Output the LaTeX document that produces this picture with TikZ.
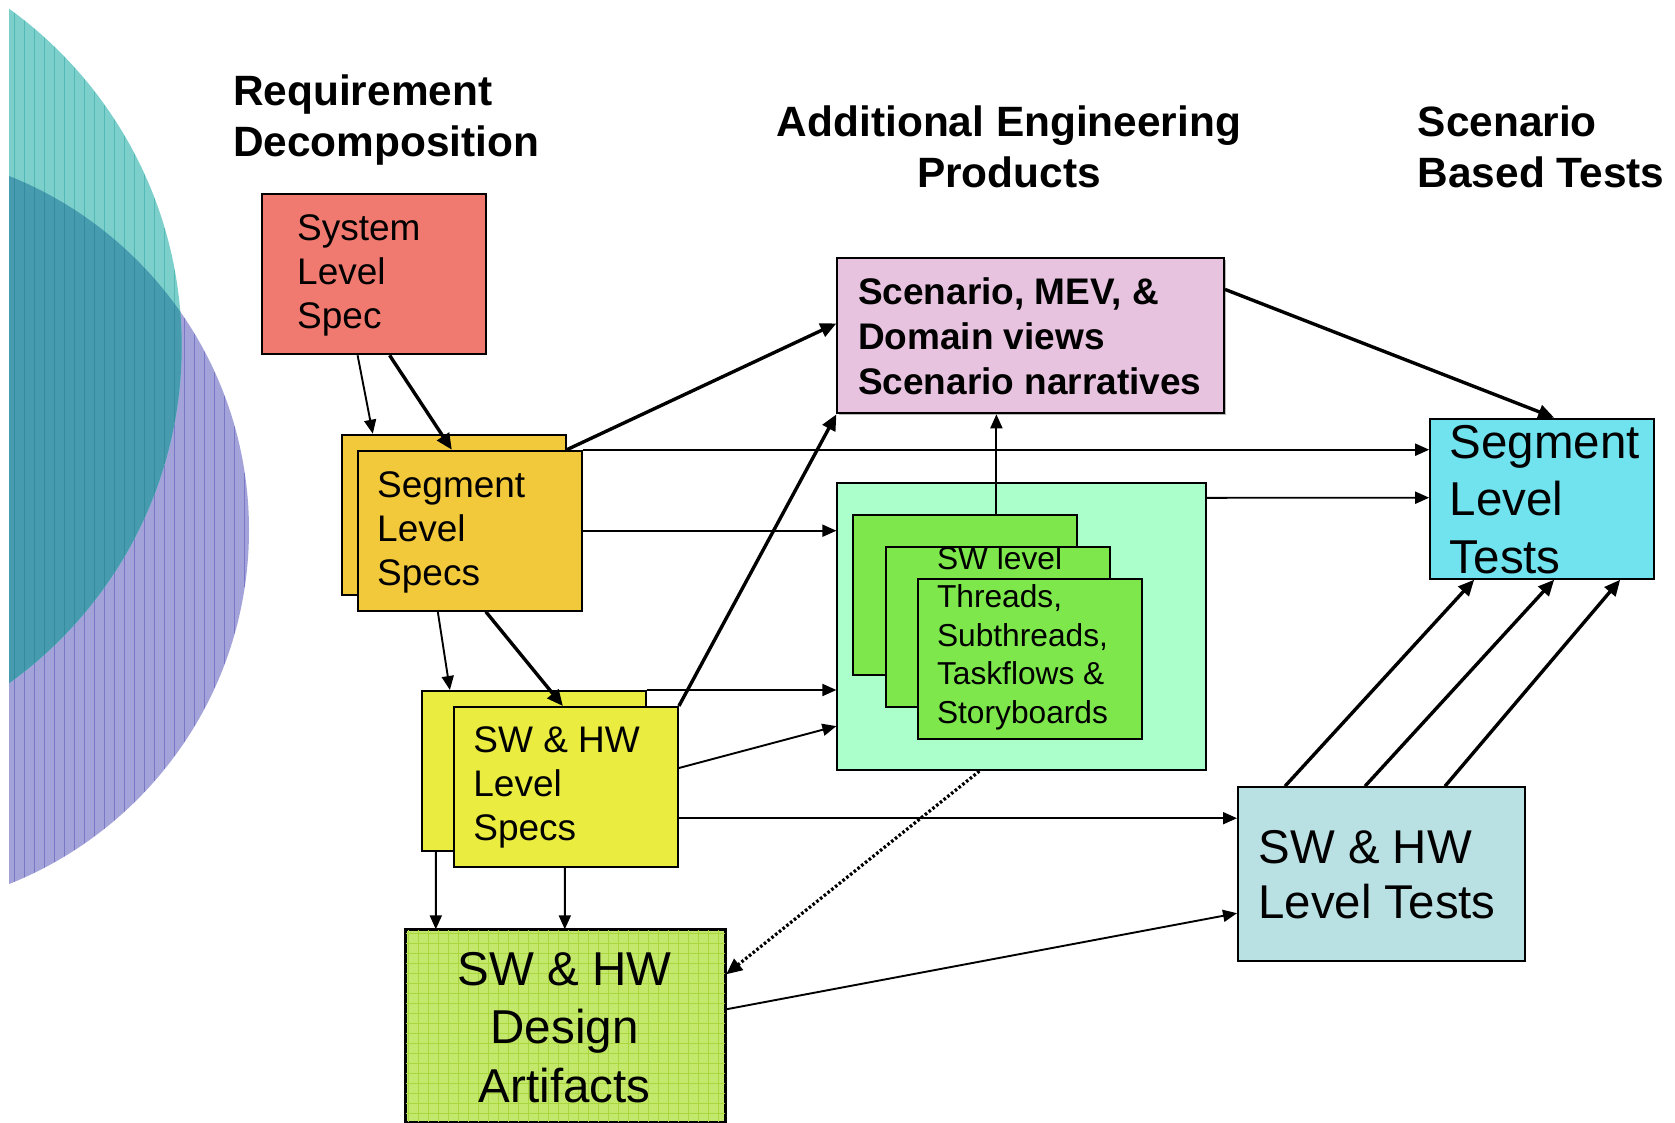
\documentclass[tikz,border=0pt]{standalone}
\usepackage{fontspec}
\setmainfont{Liberation Sans}
\usetikzlibrary{calc,arrows.meta}

\definecolor{sysred}{HTML}{F07A70}
\definecolor{seggold}{HTML}{F1C93B}
\definecolor{swyellow}{HTML}{EAEC40}
\definecolor{desgreen}{HTML}{C4E86C}
\definecolor{desgrid}{HTML}{AAD63E}
\definecolor{scenpink}{HTML}{E7C3DF}
\definecolor{mint}{HTML}{ABFFCB}
\definecolor{thrgreen}{HTML}{7DE74B}
\definecolor{segcyan}{HTML}{70E3EF}
\definecolor{swtblue}{HTML}{B9E0E3}
\definecolor{tealfill}{HTML}{7DCFCB}
\definecolor{tealline}{HTML}{52B9B4}
\definecolor{purpfill}{HTML}{A3A3DA}
\definecolor{purpline}{HTML}{7878C6}
\definecolor{mixfill}{HTML}{479BAE}
\definecolor{mixline}{HTML}{358B9E}

% stacked lines whose baseline is that of the first line
\newcommand{\lstack}[1]{\begin{tabular}[t]{@{}l@{}}#1\end{tabular}}
\newcommand{\cstack}[1]{\begin{tabular}[t]{@{}c@{}}#1\end{tabular}}

\begin{document}
\begin{tikzpicture}[x=1pt,y=-1pt,
  box/.style={draw=black, line width=2pt, inner sep=0pt, anchor=north west},
  spec/.style={box, minimum width=224pt, minimum height=160pt},
  txt/.style={inner sep=0pt, anchor=base west},
  ctxt/.style={inner sep=0pt, anchor=base},
  thn/.style={line width=1.9pt, -{Triangle[length=14pt,width=12pt]}},
  thk/.style={line width=3.4pt, -{Triangle[length=16pt,width=14pt]}},
  dotarrow/.style={line width=3.2pt, dash pattern=on 2.6pt off 2.2pt,
    -{Triangle[length=16pt,width=14pt]}},
  head/.style={font=\bfseries\fontsize{42.4}{51.5}\selectfont},
  body/.style={font=\fontsize{37}{44}\selectfont},
  stripe/.style={line width=0.9pt},
]
\useasboundingbox (0,0) rectangle (1675,1122);
\fill[white] (0,0) rectangle (1675,1122);

% ---- overlapping discs on the left edge ----
\begin{scope}
  \clip (9,0) rectangle (400,1122);
  \fill[purpfill] (-132,530) circle[radius=381pt];
  \begin{scope}
    \clip (-132,530) circle[radius=381pt];
    \foreach \x in {14,24,...,254} \draw[purpline, stripe] (\x,0) -- (\x,1122);
  \end{scope}
  \fill[tealfill] (-234,346) circle[radius=415.7pt];
  \begin{scope}
    \clip (-234,346) circle[radius=415.7pt];
    \foreach \x in {14,24,...,254} \draw[tealline, stripe] (\x,0) -- (\x,1122);
  \end{scope}
  \begin{scope}
    \clip (-132,530) circle[radius=381pt];
    \clip (-234,346) circle[radius=415.7pt];
    \fill[mixfill] (0,0) rectangle (400,1122);
    \foreach \x in {14,24,...,254} \draw[mixline, stripe] (\x,0) -- (\x,1122);
  \end{scope}
\end{scope}

% ---- column headings ----
\node[txt, head] (hreq) at (233,105) {\lstack{Requirement\\Decomposition}};
\node[ctxt, head] (hadd) at (1009,136) {\cstack{Additional Engineering\\Products}};
\node[txt, head] (hscn) at (1417.5,136) {\lstack{Scenario\\Based Tests}};

% ---- requirement decomposition boxes ----
\node[spec, fill=sysred] (sys) at (260.6,193.3) {};
\node[spec, fill=seggold] (segB) at (340.8,433.7) {};
\node[spec, fill=seggold] (segF) at (356.8,449.7) {};
\node[spec, fill=swyellow] (swB) at (420.9,690) {};
\node[spec, fill=swyellow] (swF) at (452.9,706) {};
\node[box, fill=desgreen, minimum width=319.4pt, minimum height=191.2pt] (des) at (404.8,929.3) {};
\begin{scope}
  \clip (des.north west) rectangle (des.south east);
  \foreach \i in {0,...,32} \draw[desgrid, line width=1pt] ($(des.north west)+(\i*10+4,0)$) -- ++(0,195);
  \foreach \i in {0,...,19} \draw[desgrid, line width=1pt] ($(des.north west)+(0,\i*10+4)$) -- ++(325,0);
\end{scope}
\draw[line width=2pt] (des.north west) rectangle (des.south east);

% ---- engineering products ----
\fill[gray!55] (838.9,259.9) rectangle (1225.5,414.8);
\node[box, fill=scenpink, minimum width=386.6pt, minimum height=154.9pt] (scen) at (836.4,257.4) {};
\node[box, fill=mint, minimum width=368.6pt, minimum height=287.3pt] (grn) at (836.4,481.8) {};
\node[spec, fill=thrgreen] (g1) at (852.4,513.8) {};
\node[spec, fill=thrgreen] (g2) at (884.5,545.9) {};
\node[spec, fill=thrgreen] (g3) at (916.5,577.9) {};

% ---- tests ----
\node[spec, fill=segcyan] (segT) at (1429.2,417.7) {};
\node[box, fill=swtblue, minimum width=287.3pt, minimum height=174.1pt] (swT) at (1237,786.2) {};

% ---- box texts ----
\node[txt, body] (sysL) at (297,240) {\lstack{System\\Level\\Spec}};
\node[txt, body] (segL) at (377,497) {\lstack{Segment\\Level\\Specs}};
\node[txt, body] (swL) at (473.2,752) {\lstack{SW \& HW\\Level\\Specs}};
\node[ctxt, font=\fontsize{47.5}{58.7}\selectfont] (desL) at (564.6,985) {\cstack{SW \& HW\\Design\\Artifacts}};
\node[txt, font=\bfseries\fontsize{37}{45}\selectfont] (scenL) at (857.8,304.4)
  {\lstack{Scenario, MEV, \&\\Domain views\\Scenario narratives}};
\node[txt, font=\fontsize{31.7}{38.4}\selectfont] (thrL) at (936.8,569.4)
  {\lstack{SW level\\Threads,\\Subthreads,\\Taskflows \&\\Storyboards}};
\node[txt, font=\fontsize{47.5}{57.6}\selectfont] (segTL) at (1449.6,458) {\lstack{Segment\\Level\\Tests}};
\node[txt, font=\fontsize{47.4}{55.7}\selectfont] (swTL) at (1258.3,863) {\lstack{SW \& HW\\Level Tests}};

% ---- connectors ----
\draw[thn] ($(sys.south west)+(97,0)$) -- ($(segB.north west)+(32,0)$);
\draw[thk] ($(sys.south west)+(129,0)$) -- ($(segF.north west)+(95,0)$);
\draw[thk] (segB.east |- segF.north) -- ($(scen.north west)+(0,66)$);
\draw[thn] (segF.north east) -- (segT.west |- segF.north);
\draw[thn] (segF.east) -- (grn.west |- segF.east);
\draw[thn] ($(segF.south west)+(81,0)$) -- ($(swB.north west)+(29,0)$);
\draw[thk] ($(segF.south west)+(129,0)$) -- ($(swF.north west)+(110,0)$);
\draw[thn] (swB.north east) -- (grn.west |- swB.north);
\draw[thk] (swF.north east) -- (scen.south west);
\draw[thn] ($(swF.north east)+(0,62)$) -- ($(grn.south west)+(0,-45)$);
\draw[thn] ($(swF.north east)+(0,112.2)$) -- ($(swT.north west)+(0,32)$);
\draw[thn] ($(swB.south west)+(15,0)$) -- ($(des.north west)+(31,0)$);
\draw[thn] ($(swF.south west)+(112,0)$) -- ($(des.north west)+(160,0)$);
\draw[thn] ($(g1.north west)+(144,0)$) -- ($(scen.south west)+(160,0)$);
\draw[thn] ($(grn.north east)+(0,16)$) -- ($(segT.north west)+(0,80)$);
\draw[thk] ($(scen.north east)+(0,32)$) -- ($(segT.north west)+(125,0)$);
\draw[thk] ($(swT.north west)+(48,0)$) -- ($(segT.south west)+(45,0)$);
\draw[thk] ($(swT.north west)+(128,0)$) -- ($(segT.south west)+(125,0)$);
\draw[thk] ($(swT.north west)+(208,0)$) -- ($(segT.south west)+(191,0)$);
\draw[thn] ($(des.north east)+(0,80)$) -- ($(swT.north west)+(0,127)$);
\draw[dotarrow] ($(grn.south west)+(143,0)$) -- ($(des.north east)+(0,45)$);
\end{tikzpicture}
\end{document}
